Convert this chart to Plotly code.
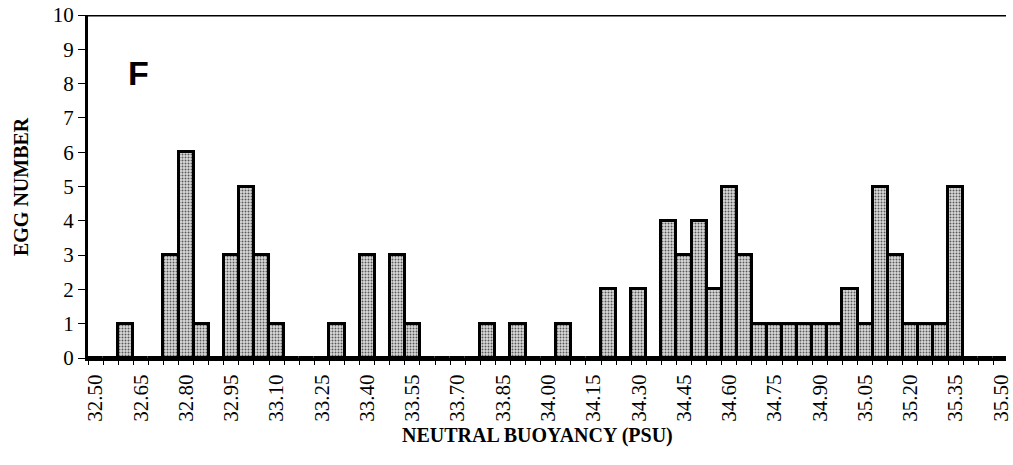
import plotly.graph_objects as go

# Neutral buoyancy salinity classes (PSU), 0.05 wide, and egg counts per class
salinity = [round(32.50 + 0.05 * i, 2) for i in range(61)]
egg_counts = [
    0, 0, 1, 0, 0, 3, 6, 1, 0, 3,   # 32.50 - 32.95
    5, 3, 1, 0, 0, 0, 1, 0, 3, 0,   # 33.00 - 33.45
    3, 1, 0, 0, 0, 0, 1, 0, 1, 0,   # 33.50 - 33.95
    0, 1, 0, 0, 2, 0, 2, 0, 4, 3,   # 34.00 - 34.45
    4, 2, 5, 3, 1, 1, 1, 1, 1, 1,   # 34.50 - 34.95
    2, 1, 5, 3, 1, 1, 1, 5, 0, 0,   # 35.00 - 35.45
    0,                              # 35.50
]
bin_width = 0.05
label_values = [round(32.50 + 0.15 * i, 2) for i in range(21)]
y_ticks = list(range(0, 11))

bin_edges = [round(s - bin_width / 2, 3) for s in salinity] + [round(salinity[-1] + bin_width / 2, 3)]

serif = "Liberation Serif, Times New Roman, serif"

fig = go.Figure()
fig.add_trace(go.Bar(
    x=salinity,
    y=egg_counts,
    width=bin_width,
    marker=dict(
        color="#d0d0d0",
        line=dict(color="black", width=3),
        pattern=dict(shape=".", fgcolor="#5a5a5a", bgcolor="#dcdcdc",
                     size=3, solidity=0.35, fillmode="replace"),
    ),
    hoverinfo="x+y",
))

fig.update_layout(
    width=1013, height=465,
    margin=dict(l=88, r=0, t=15, b=107),
    plot_bgcolor="white", paper_bgcolor="white",
    showlegend=False,
    bargap=0,
    font=dict(family=serif, color="black"),
    xaxis=dict(
        # the frame runs on slightly past the right edge of the page
        range=[bin_edges[0], 35.517],
        tickvals=label_values,
        ticktext=[f"{v:.2f}" for v in label_values],
        tickangle=-90,
        ticks="",
        tickfont=dict(family=serif, size=21, color="black"),
        ticklabelstandoff=5,
        ticklabeloverflow="allow",
        showline=True, linecolor="black", linewidth=3,
        showgrid=False, zeroline=False,
        minor=dict(tickvals=bin_edges, ticks="outside", ticklen=4,
                   tickwidth=1, tickcolor="black", showgrid=False),
    ),
    yaxis=dict(
        range=[0, 10],
        tickvals=y_ticks,
        ticks="outside", ticklen=7, tickwidth=1, tickcolor="black",
        tickfont=dict(family=serif, size=21, color="black"),
        showline=True, linecolor="black", linewidth=3,
        showgrid=False, zeroline=False,
    ),
    shapes=[dict(type="line", xref="paper", yref="y", x0=0, x1=1, y0=10, y1=10,
                 line=dict(color="black", width=3))],
    annotations=[
        dict(text="<b>F</b>", xref="paper", yref="paper", x=0.0551, y=0.831,
             xanchor="center", yanchor="middle", showarrow=False,
             font=dict(family="Liberation Sans, Arial, sans-serif", size=34, color="black")),
        dict(text="<b>EGG NUMBER</b>", xref="paper", yref="paper", x=-0.0735, y=0.5,
             xanchor="center", yanchor="middle", textangle=-90, showarrow=False,
             font=dict(family=serif, size=20, color="black")),
        dict(text="<b>NEUTRAL BUOYANCY (PSU)</b>", xref="paper", yref="paper",
             x=0.4897, y=-0.2245, xanchor="center", yanchor="middle", showarrow=False,
             font=dict(family=serif, size=20, color="black")),
    ],
)

fig.write_html("out.html")
